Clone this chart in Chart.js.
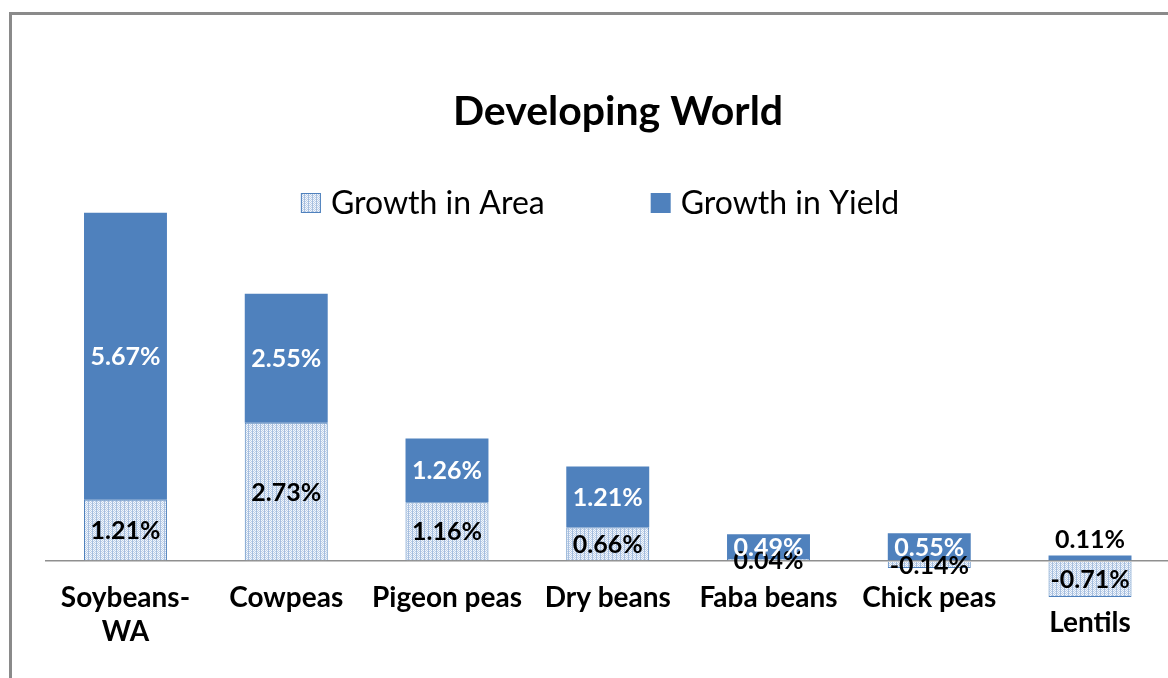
<!DOCTYPE html>
<html>
<head>
<meta charset="utf-8">
<title>Developing World</title>
<script src="https://cdn.jsdelivr.net/npm/chart.js@4.4.0/dist/chart.umd.min.js"></script>
<style>
    html, body { margin: 0; padding: 0; background: #fff; overflow: hidden; }
    #frame { position: absolute; left: 9px; top: 12px; width: 1300px; height: 700px;
             border-left: 3px solid #8a8a8a; border-top: 3px solid #8a8a8a; }
    #BarChart1 { position: absolute; left: 0; top: 0; }
</style>
</head>
<body>
<div id="frame"></div>
<canvas id="BarChart1" width="1200" height="678"></canvas>
<script>
var categorias = [["Soybeans-", "WA"], ["Cowpeas"], ["Pigeon peas"], ["Dry beans"], ["Faba beans"], ["Chick peas"], ["Lentils"]];
var growthArea = [1.21, 2.73, 1.16, 0.66, 0.04, -0.14, -0.71];
var growthYield = [5.67, 2.55, 1.26, 1.21, 0.49, 0.55, 0.11];
var serieNomes = ["Growth in Area", "Growth in Yield"];
var titulo = "Developing World";

var azul = '#4f81bd';
var fonte = 'Lato, "Open Sans", sans-serif';

// dotted fill like the excel pattern
function criarPadrao() {
    var c = document.createElement('canvas');
    c.width = 4;
    c.height = 2;
    var g = c.getContext('2d');
    g.fillStyle = '#f4f7fc';
    g.fillRect(0, 0, 4, 2);
    g.fillStyle = '#a7bfdf';
    g.fillRect(0, 0, 1, 2);
    g.fillStyle = '#bccfe8';
    g.fillRect(2, 0, 1, 1);
    g.fillRect(1, 1, 1, 1);
    g.fillRect(3, 1, 1, 1);
    return g.createPattern(c, 'repeat');
}

var ctx = document.getElementById('BarChart1').getContext('2d');
var padrao = criarPadrao();

var textos = {
    id: 'textos',
    afterDatasetsDraw: function (chart) {
        var c = chart.ctx;
        var xs = chart.scales.x;
        var ys = chart.scales.y;
        var zero = ys.getPixelForValue(0);

        c.save();
        c.textAlign = 'center';
        c.textBaseline = 'middle';

        // value labels, centered in each segment (thin yield bars get it on top)
        c.font = 'bold 25px ' + fonte;
        chart.data.datasets.forEach(function (ds, d) {
            var meta = chart.getDatasetMeta(d);
            meta.data.forEach(function (bar, i) {
                var v = ds.data[i];
                var y = (bar.y + bar.base) / 2;
                c.fillStyle = d == 1 ? '#ffffff' : '#000000';
                if (d == 1 && Math.abs(bar.base - bar.y) < 12) {
                    y = bar.y - 16;
                    c.fillStyle = '#000000';
                }
                c.fillText(v.toFixed(2) + '%', bar.x, y + 1);
            });
        });

        // category labels
        c.font = 'bold 28px ' + fonte;
        c.fillStyle = '#000000';
        categorias.forEach(function (lab, i) {
            var neg = 0;
            if (growthArea[i] < 0) neg += growthArea[i];
            if (growthYield[i] < 0) neg += growthYield[i];
            var y = Math.max(zero + 37, ys.getPixelForValue(neg) + 26);
            var x = xs.getPixelForValue(i);
            for (var k = 0; k < lab.length; k++)
                c.fillText(lab[k], x, y + k * 34);
        });

        // title
        c.font = 'bold 41px ' + fonte;
        c.fillText(titulo, 618, 112);

        // legend
        c.font = '32px ' + fonte;
        var box = 20, gap = 10, espaco = 106;
        var w1 = c.measureText(serieNomes[0]).width;
        var w2 = c.measureText(serieNomes[1]).width;
        var total = box + gap + w1 + espaco + box + gap + w2;
        var lx = 600 - total / 2;
        var ly = 203;
        c.textAlign = 'left';
        c.fillStyle = padrao;
        c.fillRect(lx, ly - box / 2, box, box);
        c.strokeStyle = azul;
        c.lineWidth = 1;
        c.strokeRect(lx + 0.5, ly - box / 2 + 0.5, box - 1, box - 1);
        c.fillStyle = '#000000';
        c.fillText(serieNomes[0], lx + box + gap, ly + 1);
        lx += box + gap + w1 + espaco;
        c.fillStyle = azul;
        c.fillRect(lx, ly - box / 2, box, box);
        c.fillStyle = '#000000';
        c.fillText(serieNomes[1], lx + box + gap, ly + 1);

        c.restore();
    }
};

var BarChart = new Chart(ctx, {
    type: 'bar',
    data: {
        labels: categorias,
        datasets: [{
            label: serieNomes[0],
            data: growthArea,
            backgroundColor: padrao,
            borderColor: azul,
            borderWidth: 1,
            clip: false
        }, {
            label: serieNomes[1],
            data: growthYield,
            backgroundColor: azul,
            borderColor: azul,
            borderWidth: 0,
            clip: false
        }]
    },
    options: {
        responsive: false,
        animation: false,
        devicePixelRatio: 1,
        layout: {
            padding: { left: 45.1, right: 29.6, top: 206.8, bottom: 15.8 }
        },
        datasets: {
            bar: { categoryPercentage: 1, barPercentage: 0.516 }
        },
        plugins: {
            legend: { display: false },
            title: { display: false },
            tooltip: { enabled: false }
        },
        scales: {
            x: { stacked: true, display: false },
            y: {
                stacked: true,
                min: -2,
                max: 7,
                ticks: { display: false, stepSize: 1 },
                border: { display: false },
                grid: {
                    drawTicks: false,
                    lineWidth: 1.5,
                    color: function (c) { return c.tick && c.tick.value === 0 ? '#8f8f8f' : 'transparent'; }
                }
            }
        }
    },
    plugins: [textos]
});
</script>
</body>
</html>
